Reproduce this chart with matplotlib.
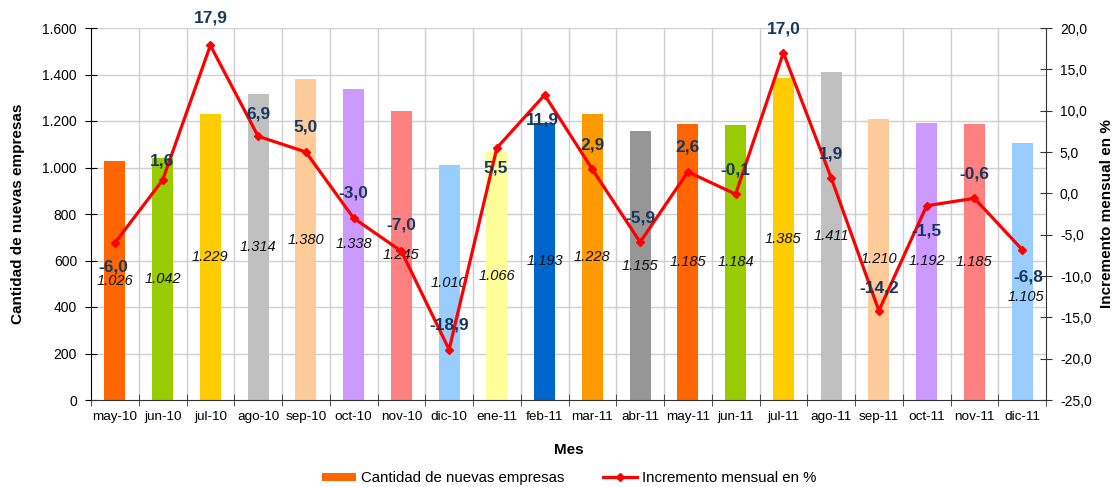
import matplotlib
matplotlib.use("Agg")
import matplotlib.pyplot as plt
from matplotlib.lines import Line2D
from matplotlib.patches import Patch
import numpy as np

plt.rcParams['font.family'] = ['Liberation Sans', 'DejaVu Sans']

meses = ["may-10", "jun-10", "jul-10", "ago-10", "sep-10", "oct-10", "nov-10", "dic-10",
         "ene-11", "feb-11", "mar-11", "abr-11", "may-11", "jun-11", "jul-11", "ago-11",
         "sep-11", "oct-11", "nov-11", "dic-11"]
empresas = [1026, 1042, 1229, 1314, 1380, 1338, 1245, 1010, 1066, 1193, 1228, 1155,
            1185, 1184, 1385, 1411, 1210, 1192, 1185, 1105]
incremento = [-6.0, 1.6, 17.9, 6.9, 5.0, -3.0, -7.0, -18.9, 5.5, 11.9, 2.9, -5.9,
              2.6, -0.1, 17.0, 1.9, -14.2, -1.5, -0.6, -6.8]

bar_colors = ["#FF6600", "#99CC00", "#FFCC00", "#C0C0C0", "#FFCC99", "#CC99FF", "#FF8080",
              "#99CCFF", "#FFFF99", "#0066CC", "#FF9900", "#969696", "#FF6600", "#99CC00",
              "#FFCC00", "#C0C0C0", "#FFCC99", "#CC99FF", "#FF8080", "#99CCFF"]
# label offsets for percentage labels (pixels: dx, dy; positive dy = above)
pct_offsets = [(-2, -24), (-1, 19), (0, 27), (0, 22), (0, 25), (0, 25), (0, 26), (0, 25),
               (-1, -20), (-2, -25), (0, 24), (0, 24), (0, 25), (0, 24), (0, 24), (0, 24),
               (0, 23), (0, -25), (0, 24), (6, -27)]
# label offsets for bar value labels (pixels)
bar_offsets = [(0, 0)] * 19 + [(4, -25)]

W, H = 1118, 487
fig = plt.figure(figsize=(W / 100, H / 100), dpi=100)
L, R, T, B = 91, 1046, 28, 400
ax = fig.add_axes([L / W, 1 - B / H, (R - L) / W, (B - T) / H])
x = np.arange(len(meses))

grid_c = "#CFCFCF"
for v in range(200, 1601, 200):
    ax.axhline(v, color=grid_c, lw=1, zorder=0)
for b in np.arange(0.5, len(meses) - 0.5, 1):
    ax.axvline(b, color=grid_c, lw=1, zorder=0)

ax.bar(x, empresas, width=0.44, color=bar_colors, zorder=2)
ax.set_xlim(-0.5, len(meses) - 0.5)
ax.set_ylim(0, 1600)
ax.set_yticks(range(0, 1601, 200))
ax.set_yticklabels([f"{v:,}".replace(",", ".") for v in range(0, 1601, 200)], fontsize=10)
ax.set_xticks(x)
ax.set_xticklabels(meses, fontsize=9.7)
ax.tick_params(axis='x', length=0, pad=8)
ax.set_xticks(np.arange(-0.5, len(meses), 1), minor=True)
ax.tick_params(axis='x', which='minor', direction='inout', length=8, color='#333333')
ax.tick_params(axis='y', direction='inout', length=8, color='black', pad=6)
for s in ['top', 'right']:
    ax.spines[s].set_visible(False)
ax.spines['left'].set_color('black')
ax.spines['bottom'].set_color('#333333')

for xi, v, (dx, dy) in zip(x, empresas, bar_offsets):
    ax.annotate(f"{v:,}".replace(",", "."), (xi, v / 2), xytext=(dx * 0.72, dy * 0.72),
                textcoords='offset points', ha='center', va='center',
                fontsize=10.5, style='italic', color='#111111', zorder=5)

ax.set_ylabel("Cantidad de nuevas empresas", fontsize=11, fontweight='bold')
ax.yaxis.label.set_va('center')
ax.yaxis.set_label_coords((18 - L) / (R - L), 0.5)
ax.set_xlabel("Mes", fontsize=11, fontweight='bold')
ax.xaxis.label.set_va('center')
ax.xaxis.set_label_coords(0.5, -(450 - B) / (B - T))

ax2 = ax.twinx()
ax2.set_ylim(-25, 20)
ax2.set_yticks(np.arange(-25, 20.1, 5))
ax2.set_yticklabels([f"{v:.1f}".replace(".", ",") for v in np.arange(-25, 20.1, 5)], fontsize=10)
ax2.tick_params(axis='y', direction='inout', length=8, color='#333333', pad=6)
for s in ['top', 'left', 'bottom']:
    ax2.spines[s].set_visible(False)
ax2.spines['right'].set_color('#333333')
ax2.plot(x, incremento, color='#FF0000', lw=2.3, marker='D', markersize=4.5, zorder=4)
for xi, v, (dx, dy) in zip(x, incremento, pct_offsets):
    ax2.annotate(f"{v:.1f}".replace(".", ","), (xi, v), xytext=(dx * 0.72, dy * 0.72),
                 textcoords='offset points', ha='center', va='center',
                 fontsize=12.5, fontweight='bold', color='#17375E', zorder=6)
ax2.set_ylabel("Incremento mensual en %", fontsize=11, fontweight='bold')
ax2.yaxis.label.set_va('center')
ax2.yaxis.set_label_coords((1107 - L) / (R - L), 0.5)

handles = [Patch(facecolor="#FF6600", edgecolor='none'),
           Line2D([0], [0], color='#FF0000', lw=2.3, marker='D', markersize=4)]
fig.legend(handles, ["Cantidad de nuevas empresas", "Incremento mensual en %"],
           loc='center', bbox_to_anchor=(569 / W, 1 - 478 / H), ncol=2, frameon=False,
           fontsize=10.8, handlelength=2.3, handleheight=0.45, columnspacing=2.6,
           handletextpad=0.3)

fig.savefig("out.png", dpi=100)
